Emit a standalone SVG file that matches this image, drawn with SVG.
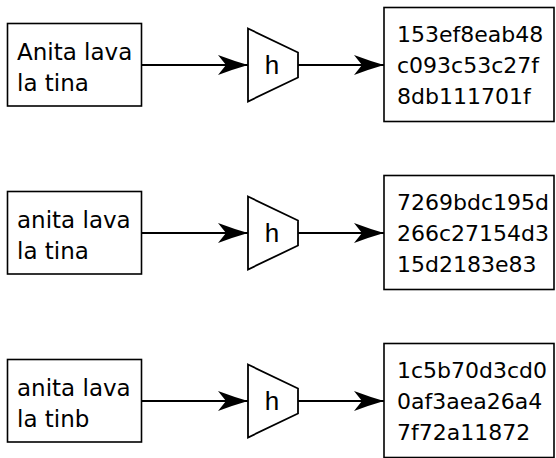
<svg xmlns="http://www.w3.org/2000/svg" width="556" height="458" viewBox="0 0 556 458">
  <style>
    .box { fill: #ffffff; stroke: #000000; stroke-width: 1.6; }
    .hash { fill: #ffffff; stroke: #000000; stroke-width: 1.8; stroke-linejoin: miter; }
    .wire { fill: none; stroke: #000000; stroke-width: 1.8; }
    .txt { font-family: "DejaVu Sans", "Open Sans", sans-serif; font-size: 22px; fill: #000000; }
    .lbl { font-size: 23px; }
    .fn { font-family: "Liberation Sans", Arial, sans-serif; font-size: 26px; fill: #000000; text-anchor: middle; }
  </style>
  <defs>
    <marker id="arrow" markerUnits="userSpaceOnUse" markerWidth="34" markerHeight="24" refX="31" refY="11" orient="auto">
      <path d="M31,11 Q17,7 1,1 L9,11 L1,21 Q17,15 31,11 Z" fill="#000000"/>
    </marker>
  </defs>

  <!-- connectors: input box -> hash function -> digest box -->
  <g id="connectors">
    <line class="wire" x1="142" y1="65" x2="248" y2="65" marker-end="url(#arrow)"/>
    <line class="wire" x1="298" y1="65" x2="384" y2="65" marker-end="url(#arrow)"/>
    <line class="wire" x1="142" y1="233" x2="248" y2="233" marker-end="url(#arrow)"/>
    <line class="wire" x1="298" y1="233" x2="384" y2="233" marker-end="url(#arrow)"/>
    <line class="wire" x1="142" y1="401" x2="248" y2="401" marker-end="url(#arrow)"/>
    <line class="wire" x1="298" y1="401" x2="384" y2="401" marker-end="url(#arrow)"/>
  </g>

  <!-- row 1 -->
  <g id="input1">
    <rect class="box" x="7.5" y="23.5" width="134" height="82.5"/>
    <text class="txt lbl" x="17" y="60">Anita lava</text>
    <text class="txt lbl" x="17" y="91">la tina</text>
  </g>
  <g id="hash1">
    <polygon class="hash" points="248,28.5 298,52.5 298,77.5 248,101.5"/>
    <text class="fn" x="272" y="74">h</text>
  </g>
  <g id="digest1">
    <rect class="box" x="384" y="7.5" width="170" height="114"/>
    <text class="txt" x="397" y="42">153ef8eab48</text>
    <text class="txt" x="397" y="73">c093c53c27f</text>
    <text class="txt" x="397" y="104">8db111701f</text>
  </g>

  <!-- row 2 -->
  <g id="input2">
    <rect class="box" x="7.5" y="191.5" width="134" height="82.5"/>
    <text class="txt lbl" x="17" y="228">anita lava</text>
    <text class="txt lbl" x="17" y="259">la tina</text>
  </g>
  <g id="hash2">
    <polygon class="hash" points="248,196.5 298,220.5 298,245.5 248,269.5"/>
    <text class="fn" x="272" y="242">h</text>
  </g>
  <g id="digest2">
    <rect class="box" x="384" y="175.5" width="170" height="114"/>
    <text class="txt" x="397" y="210">7269bdc195d</text>
    <text class="txt" x="397" y="241">266c27154d3</text>
    <text class="txt" x="397" y="272">15d2183e83</text>
  </g>

  <!-- row 3 -->
  <g id="input3">
    <rect class="box" x="7.5" y="359.5" width="134" height="82.5"/>
    <text class="txt lbl" x="17" y="396">anita lava</text>
    <text class="txt lbl" x="17" y="427">la tinb</text>
  </g>
  <g id="hash3">
    <polygon class="hash" points="248,364.5 298,388.5 298,413.5 248,437.5"/>
    <text class="fn" x="272" y="410">h</text>
  </g>
  <g id="digest3">
    <rect class="box" x="384" y="343.5" width="170" height="114"/>
    <text class="txt" x="397" y="378">1c5b70d3cd0</text>
    <text class="txt" x="397" y="409">0af3aea26a4</text>
    <text class="txt" x="397" y="440">7f72a11872</text>
  </g>
</svg>
